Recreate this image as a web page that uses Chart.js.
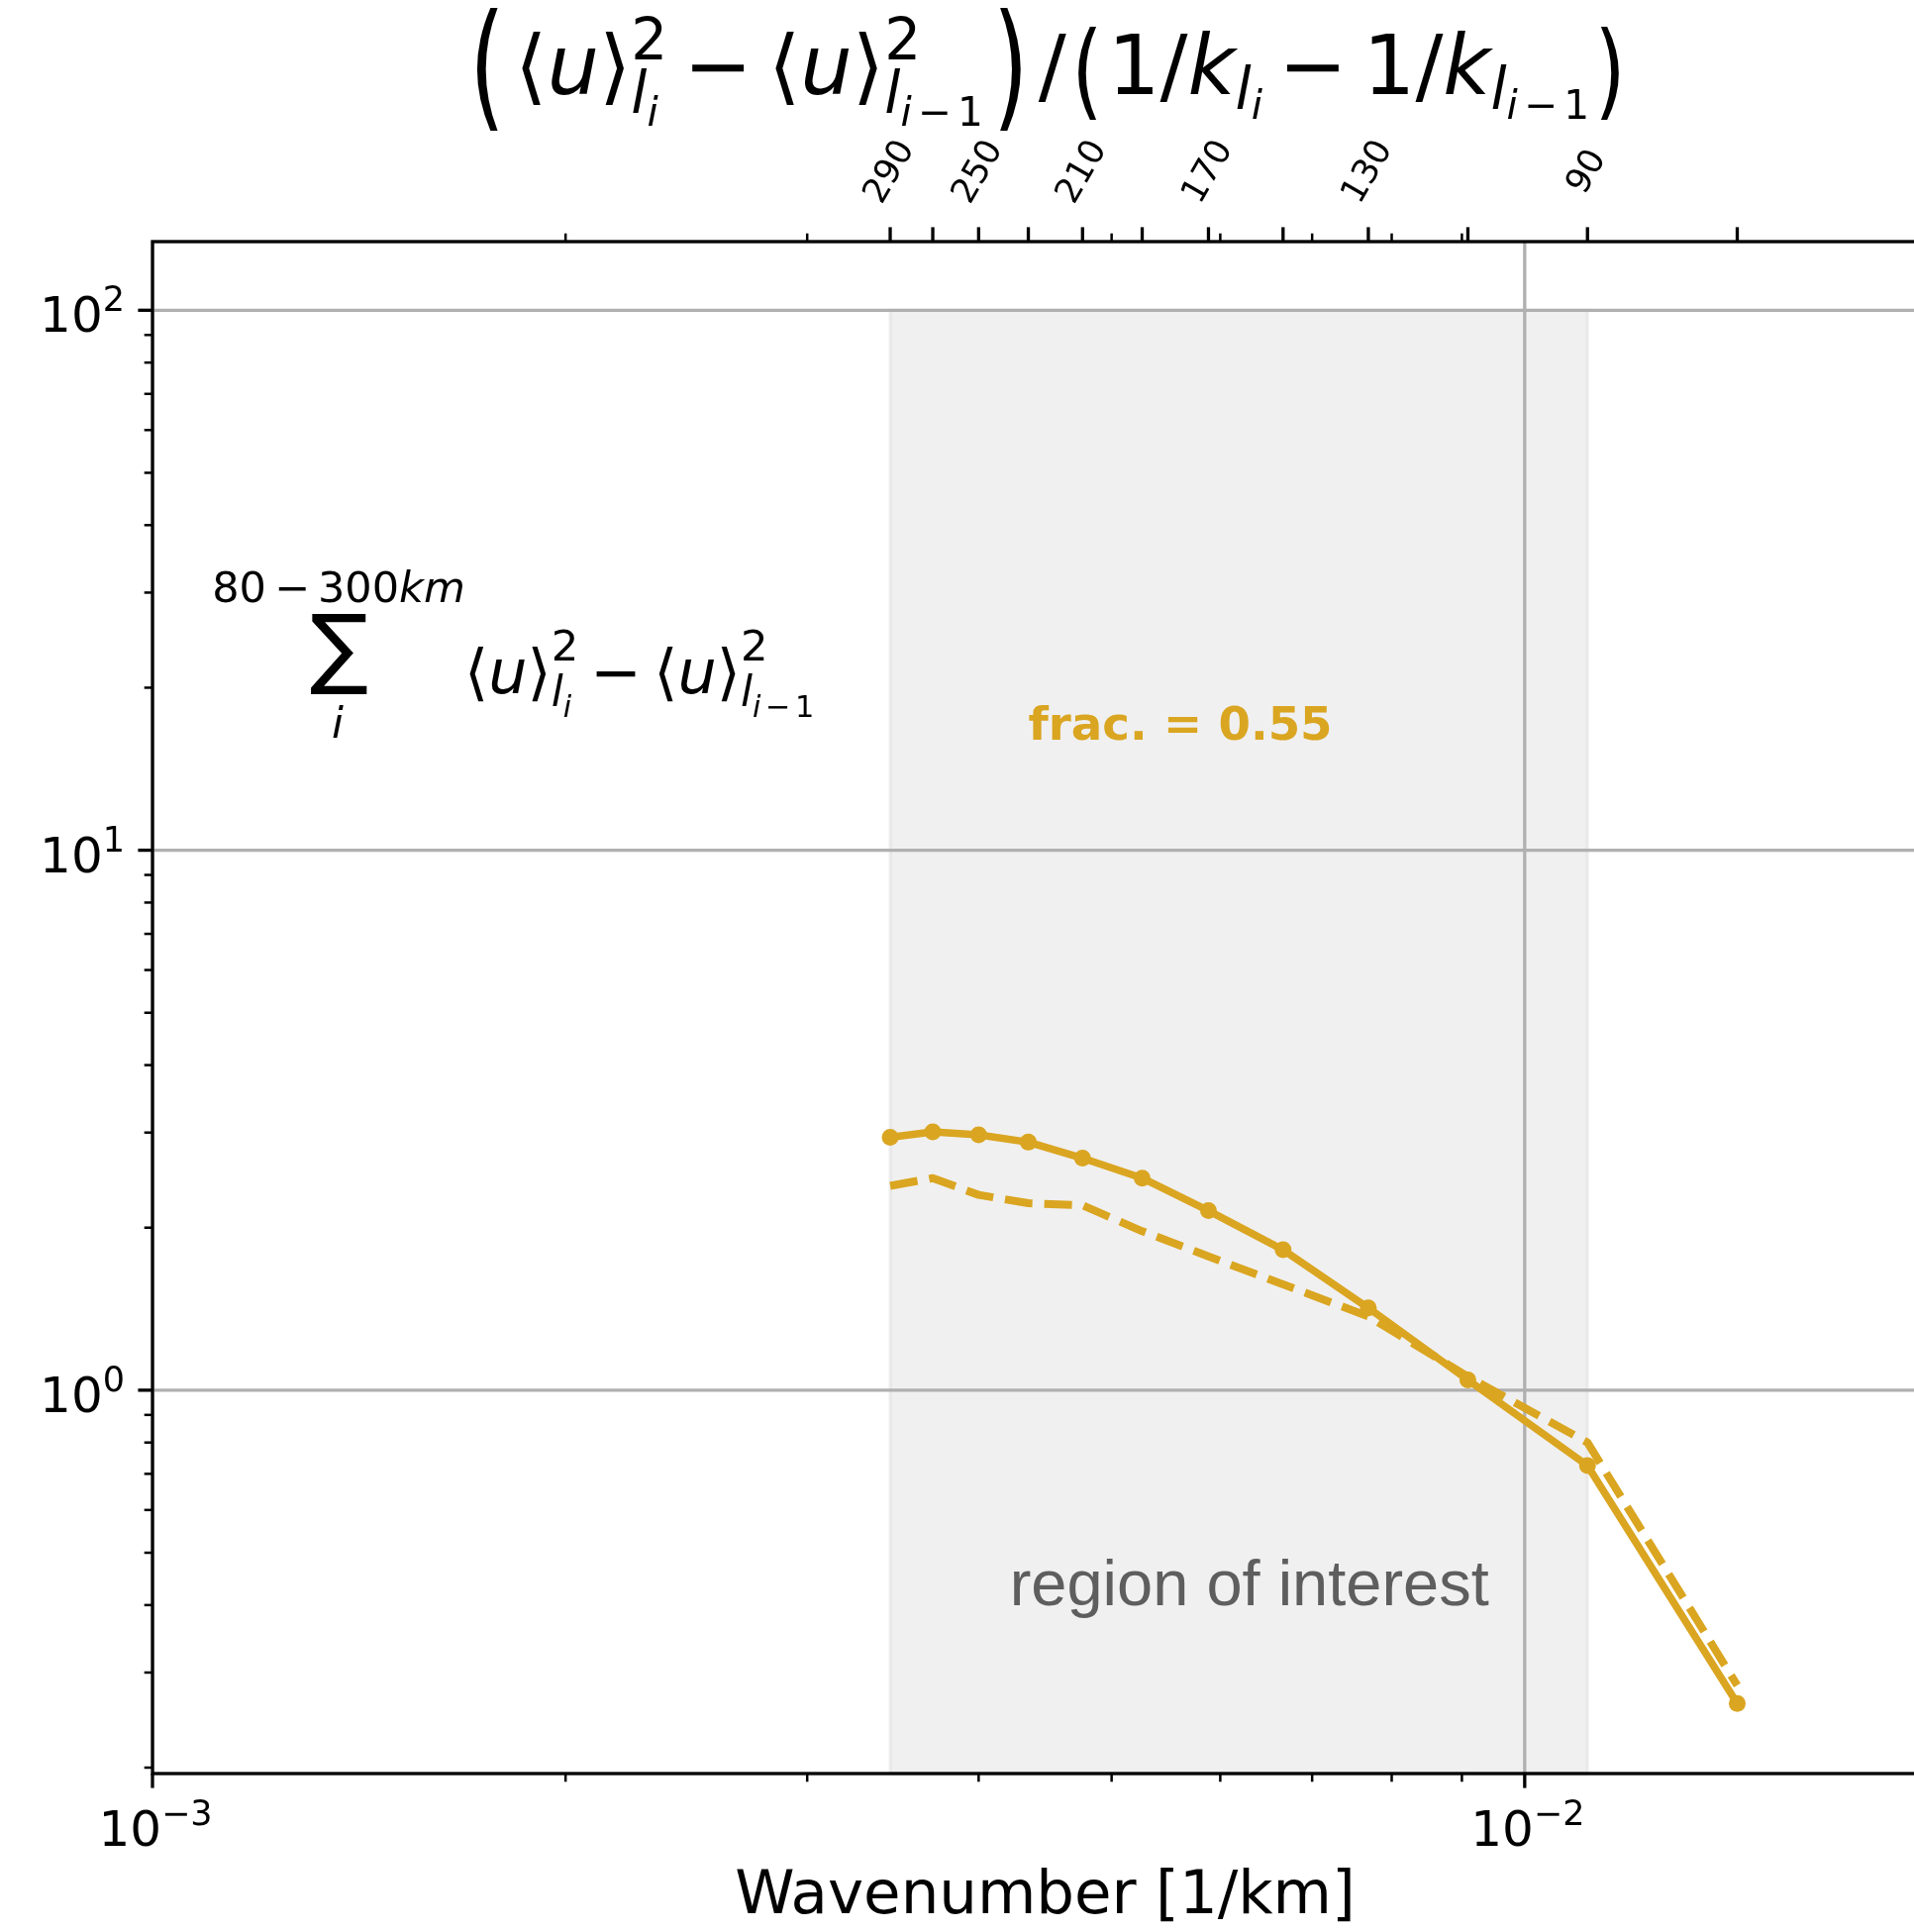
<!DOCTYPE html>
<html>
<head>
<meta charset="utf-8">
<script src="https://cdn.jsdelivr.net/npm/chart.js@4.4.1/dist/chart.umd.min.js"></script>
<style>
  html, body { margin: 0; padding: 0; background: #fff; overflow: hidden; }
  #wrap { width: 1975px; height: 1951px; }
</style>
</head>
<body>
<div id="wrap"><canvas id="chart" width="1975" height="1951"></canvas></div>
<script>
// scale bands [km]; the x value of each point is the wavenumber 1/L
const wavelengthsKm = [290, 270, 250, 230, 210, 190, 170, 150, 130, 110, 90, 70];
const topLabelsKm = [290, 250, 210, 170, 130, 90];
const energySolid = [2.94, 3.01, 2.97, 2.88, 2.69, 2.47, 2.15, 1.82, 1.42, 1.045, 0.725, 0.263];
const energyDashed = [2.39, 2.47, 2.30, 2.22, 2.20, 1.97, 1.77, 1.57, 1.37, 1.06, 0.80, 0.284];
const roiKm = [290, 90];
const roiTop = 100;
const fracText = 'frac. = 0.55';
const fracAt = [1 / 230, 16];
const roiText = 'region of interest';
const roiTextAt = [0.0063, 0.4];
const xRange = [0.001, 0.02];
const yRange = [0.195, 134];

const GOLD = '#DAA520';
const FONT = '"DejaVu Sans"';
const TICK_FS = 50;
const SUP_FS = 35;

const toPoints = vals => wavelengthsKm.map((l, i) => ({ x: 1 / l, y: vals[i] }));

function decades(min, max) {
    const out = [];
    for (let e = Math.ceil(Math.log10(min) - 1e-9); e <= Math.floor(Math.log10(max) + 1e-9); e++) out.push(e);
    return out;
}

function minors(min, max) {
    const out = [];
    for (let e = Math.floor(Math.log10(min)); e <= Math.floor(Math.log10(max)); e++) {
        for (let m = 2; m <= 9; m++) {
            const v = m * Math.pow(10, e);
            if (v >= min * (1 - 1e-9) && v <= max * (1 + 1e-9)) out.push(v);
        }
    }
    return out;
}

// tiny mathtext-ish renderer: runs of {t, s, i, dy, gl, gr, sy, w} or {stack: [runs, runs]}
function drawMath(ctx, x, y, runs, draw = true) {
    let cx = x;
    for (const r of runs) {
        if (r.stack) {
            let w = 0;
            for (const part of r.stack) w = Math.max(w, drawMath(ctx, cx, y, part, draw));
            cx += w;
            continue;
        }
        cx += r.gl || 0;
        ctx.font = `${r.i ? 'italic ' : ''}${r.s}px ${FONT}`;
        const mw = ctx.measureText(r.t).width;
        const adv = r.w || mw;
        if (draw) {
            ctx.save();
            ctx.translate(cx + (adv - mw) / 2, y + (r.dy || 0));
            ctx.scale(1, r.sy || 1);
            ctx.fillText(r.t, 0, 0);
            ctx.restore();
        }
        cx += adv + (r.gr || 0);
    }
    return cx - x;
}

function lSub(F, dyL, dyI, minusOne) {
    const s1 = 0.7 * F, s2 = 0.49 * F;
    const r = [{ t: 'l', s: s1, i: 1, dy: dyL }, { t: 'i', s: s2, i: 1, dy: dyI }];
    if (minusOne) r.push({ t: '−', s: s2, dy: dyI, gl: 0.15 * s2, gr: 0.15 * s2 }, { t: '1', s: s2, dy: dyI });
    return r;
}

function angleU(F, supDy, dyL, dyI, minusOne) {
    return [
        { t: '⟨', s: F }, { t: 'u', s: F, i: 1 }, { t: '⟩', s: F },
        { stack: [[{ t: '2', s: 0.7 * F, dy: supDy }], lSub(F, dyL, dyI, minusOne)] }
    ];
}

function kTerm(F, dyL, dyI, minusOne) {
    return [{ t: '1', s: F }, { t: '/', s: F }, { t: 'k', s: F, i: 1 }, ...lSub(F, dyL, dyI, minusOne)];
}

const TF = 83;
const bigOpen = { t: '(', s: 92, sy: 1.52, dy: 19, w: 56 };
const bigClose = { t: ')', s: 92, sy: 1.52, dy: 19, w: 56 };
const midOpen = { t: '(', s: 80, sy: 1.32, dy: 12, w: 42 };
const midClose = { t: ')', s: 80, sy: 1.32, dy: 12, w: 42 };
const titleRuns = [
    bigOpen,
    ...angleU(TF, -35, 19, 32, false),
    { t: '−', s: TF, gl: 16, gr: 16 },
    ...angleU(TF, -35, 19, 32, true),
    bigClose,
    { t: '/', s: TF },
    midOpen,
    ...kTerm(TF, 15, 25, false),
    { t: '−', s: TF, gl: 16, gr: 16 },
    ...kTerm(TF, 15, 25, true),
    midClose,
];

const SF = 62;
const sumTopRuns = [
    { t: '80', s: 43 }, { t: '−', s: 43, gl: 8, gr: 8 }, { t: '300', s: 43 }, { t: 'km', s: 43, i: 1 }
];
const sumBodyRuns = [
    ...angleU(SF, -33, 13, 24, false),
    { t: '−', s: SF, gl: 12, gr: 12 },
    ...angleU(SF, -33, 13, 24, true),
];

function powLabel(ctx, e, x, y, align) {
    const base = '10', sup = e < 0 ? '−' + (-e) : String(e);
    ctx.font = `${TICK_FS}px ${FONT}`;
    const wb = ctx.measureText(base).width;
    ctx.font = `${SUP_FS}px ${FONT}`;
    const ws = ctx.measureText(sup).width;
    const left = align === 'right' ? x - wb - ws : x - (wb + ws) / 2;
    ctx.textAlign = 'left';
    ctx.font = `${TICK_FS}px ${FONT}`;
    ctx.fillText(base, left, y);
    ctx.font = `${SUP_FS}px ${FONT}`;
    ctx.fillText(sup, left + wb, y - 21);
}

function tickLine(ctx, x0, y0, x1, y1, w) {
    ctx.lineWidth = w;
    ctx.beginPath();
    ctx.moveTo(x0, y0);
    ctx.lineTo(x1, y1);
    ctx.stroke();
}

const mplAxes = {
    id: 'mplAxes',
    beforeDatasetsDraw(chart) {
        const { ctx, chartArea: a, scales: { x, y } } = chart;
        ctx.save();
        // region of interest
        const x0 = x.getPixelForValue(1 / roiKm[0]);
        const x1 = x.getPixelForValue(1 / roiKm[1]);
        const yt = y.getPixelForValue(roiTop);
        ctx.fillStyle = 'rgba(211,211,211,0.35)';
        ctx.fillRect(x0, yt, x1 - x0, a.bottom - yt);
        ctx.strokeStyle = 'rgba(211,211,211,0.35)';
        ctx.lineWidth = 3.3;
        ctx.strokeRect(x0, yt, x1 - x0, a.bottom - yt);

        // major grid
        ctx.beginPath();
        ctx.rect(a.left, a.top, a.right - a.left, a.bottom - a.top);
        ctx.clip();
        ctx.strokeStyle = '#b0b0b0';
        for (const e of decades(xRange[0], xRange[1])) {
            const px = x.getPixelForValue(Math.pow(10, e));
            tickLine(ctx, px, a.top, px, a.bottom, 3.3);
        }
        for (const e of decades(yRange[0], yRange[1])) {
            const py = y.getPixelForValue(Math.pow(10, e));
            tickLine(ctx, a.left, py, a.right, py, 3.3);
        }
        ctx.restore();
    },
    afterDatasetsDraw(chart) {
        const { ctx, chartArea: a, scales: { x, y } } = chart;
        ctx.save();
        ctx.fillStyle = '#000';
        ctx.strokeStyle = '#000';
        ctx.lineCap = 'butt';

        // spines
        ctx.lineWidth = 3.3;
        ctx.strokeRect(a.left, a.top, a.right - a.left, a.bottom - a.top);

        // x ticks, bottom + top
        ctx.textBaseline = 'alphabetic';
        for (const e of decades(xRange[0], xRange[1])) {
            const px = x.getPixelForValue(Math.pow(10, e));
            tickLine(ctx, px, a.bottom, px, a.bottom + 14.6, 3.3);
            powLabel(ctx, e, px + 3, a.bottom + 73, 'center');
        }
        for (const v of minors(xRange[0], xRange[1])) {
            const px = x.getPixelForValue(v);
            tickLine(ctx, px, a.bottom, px, a.bottom + 8.3, 2.5);
            tickLine(ctx, px, a.top, px, a.top - 8.3, 2.5);
        }
        // wavelength ticks on the top axis
        for (const l of wavelengthsKm) {
            const px = x.getPixelForValue(1 / l);
            tickLine(ctx, px, a.top, px, a.top - 14.6, 3.3);
        }
        ctx.font = `35px ${FONT}`;
        ctx.textAlign = 'center';
        ctx.textBaseline = 'middle';
        for (const l of topLabelsKm) {
            const px = x.getPixelForValue(1 / l);
            ctx.save();
            ctx.translate(px, a.top - 70);
            ctx.rotate(-Math.PI / 3);
            ctx.fillText(String(l), 0, 0);
            ctx.restore();
        }

        // y ticks
        ctx.textBaseline = 'alphabetic';
        for (const e of decades(yRange[0], yRange[1])) {
            const py = y.getPixelForValue(Math.pow(10, e));
            tickLine(ctx, a.left, py, a.left - 14.6, py, 3.3);
            powLabel(ctx, e, a.left - 28, py + 22, 'right');
        }
        for (const v of minors(yRange[0], yRange[1])) {
            const py = y.getPixelForValue(v);
            tickLine(ctx, a.left, py, a.left - 8.3, py, 2.5);
        }

        // axis label
        ctx.font = `61px ${FONT}`;
        ctx.textAlign = 'center';
        ctx.fillText('Wavenumber [1/km]', (a.left + a.right) / 2, 1932);

        // title
        ctx.textAlign = 'left';
        const tw = drawMath(ctx, 0, 0, titleRuns, false);
        drawMath(ctx, (a.left + a.right) / 2 - tw / 2, 95, titleRuns);

        // sum annotation
        const sx = a.left + 188;
        const w80 = drawMath(ctx, 0, 0, sumTopRuns, false);
        drawMath(ctx, sx - w80 / 2, a.top + 364, sumTopRuns);
        ctx.font = `100px ${FONT}`;
        const m = ctx.measureText('∑');
        const gh = m.actualBoundingBoxAscent + m.actualBoundingBoxDescent;
        const gw = m.actualBoundingBoxLeft + m.actualBoundingBoxRight;
        ctx.save();
        ctx.translate(sx - 28, a.top + 376);
        ctx.scale(57 / gw, 82 / gh);
        ctx.fillText('∑', m.actualBoundingBoxLeft, m.actualBoundingBoxAscent);
        ctx.restore();
        ctx.font = `italic 43px ${FONT}`;
        ctx.textAlign = 'center';
        ctx.fillText('i', sx - 1, a.top + 501);
        ctx.textAlign = 'left';
        drawMath(ctx, a.left + 315, a.top + 456, sumBodyRuns);

        // annotations in data coordinates
        ctx.fillStyle = GOLD;
        ctx.font = `bold 46.7px ${FONT}`;
        ctx.fillText(fracText, x.getPixelForValue(fracAt[0]), y.getPixelForValue(fracAt[1]));
        ctx.fillStyle = '#5e5e5e';
        ctx.font = '65px "Liberation Sans"';
        ctx.textAlign = 'center';
        ctx.fillText(roiText, x.getPixelForValue(roiTextAt[0]), y.getPixelForValue(roiTextAt[1]));
        ctx.restore();
    }
};

const hiddenAxis = {
    grid: { display: false, drawTicks: false, tickLength: 0 },
    border: { display: false },
    ticks: { display: false }
};

new Chart(document.getElementById('chart'), {
    type: 'line',
    data: {
        datasets: [
            {
                data: toPoints(energySolid),
                borderColor: GOLD,
                backgroundColor: GOLD,
                borderWidth: 7.5,
                borderJoinStyle: 'round',
                pointRadius: 8.5,
                pointBorderWidth: 0,
                pointBackgroundColor: GOLD,
            },
            {
                data: toPoints(energyDashed),
                borderColor: GOLD,
                borderWidth: 8,
                borderDash: [28, 12],
                borderJoinStyle: 'round',
                pointRadius: 0,
            },
        ]
    },
    options: {
        responsive: false,
        animation: false,
        events: [],
        layout: { padding: { left: 154, top: 244, right: 1975 - 1957, bottom: 1951 - 1791 } },
        plugins: { legend: { display: false }, tooltip: { enabled: false } },
        scales: {
            x: { type: 'logarithmic', min: xRange[0], max: xRange[1], ...hiddenAxis },
            y: { type: 'logarithmic', min: yRange[0], max: yRange[1], ...hiddenAxis }
        }
    },
    plugins: [mplAxes]
});
</script>
</body>
</html>
